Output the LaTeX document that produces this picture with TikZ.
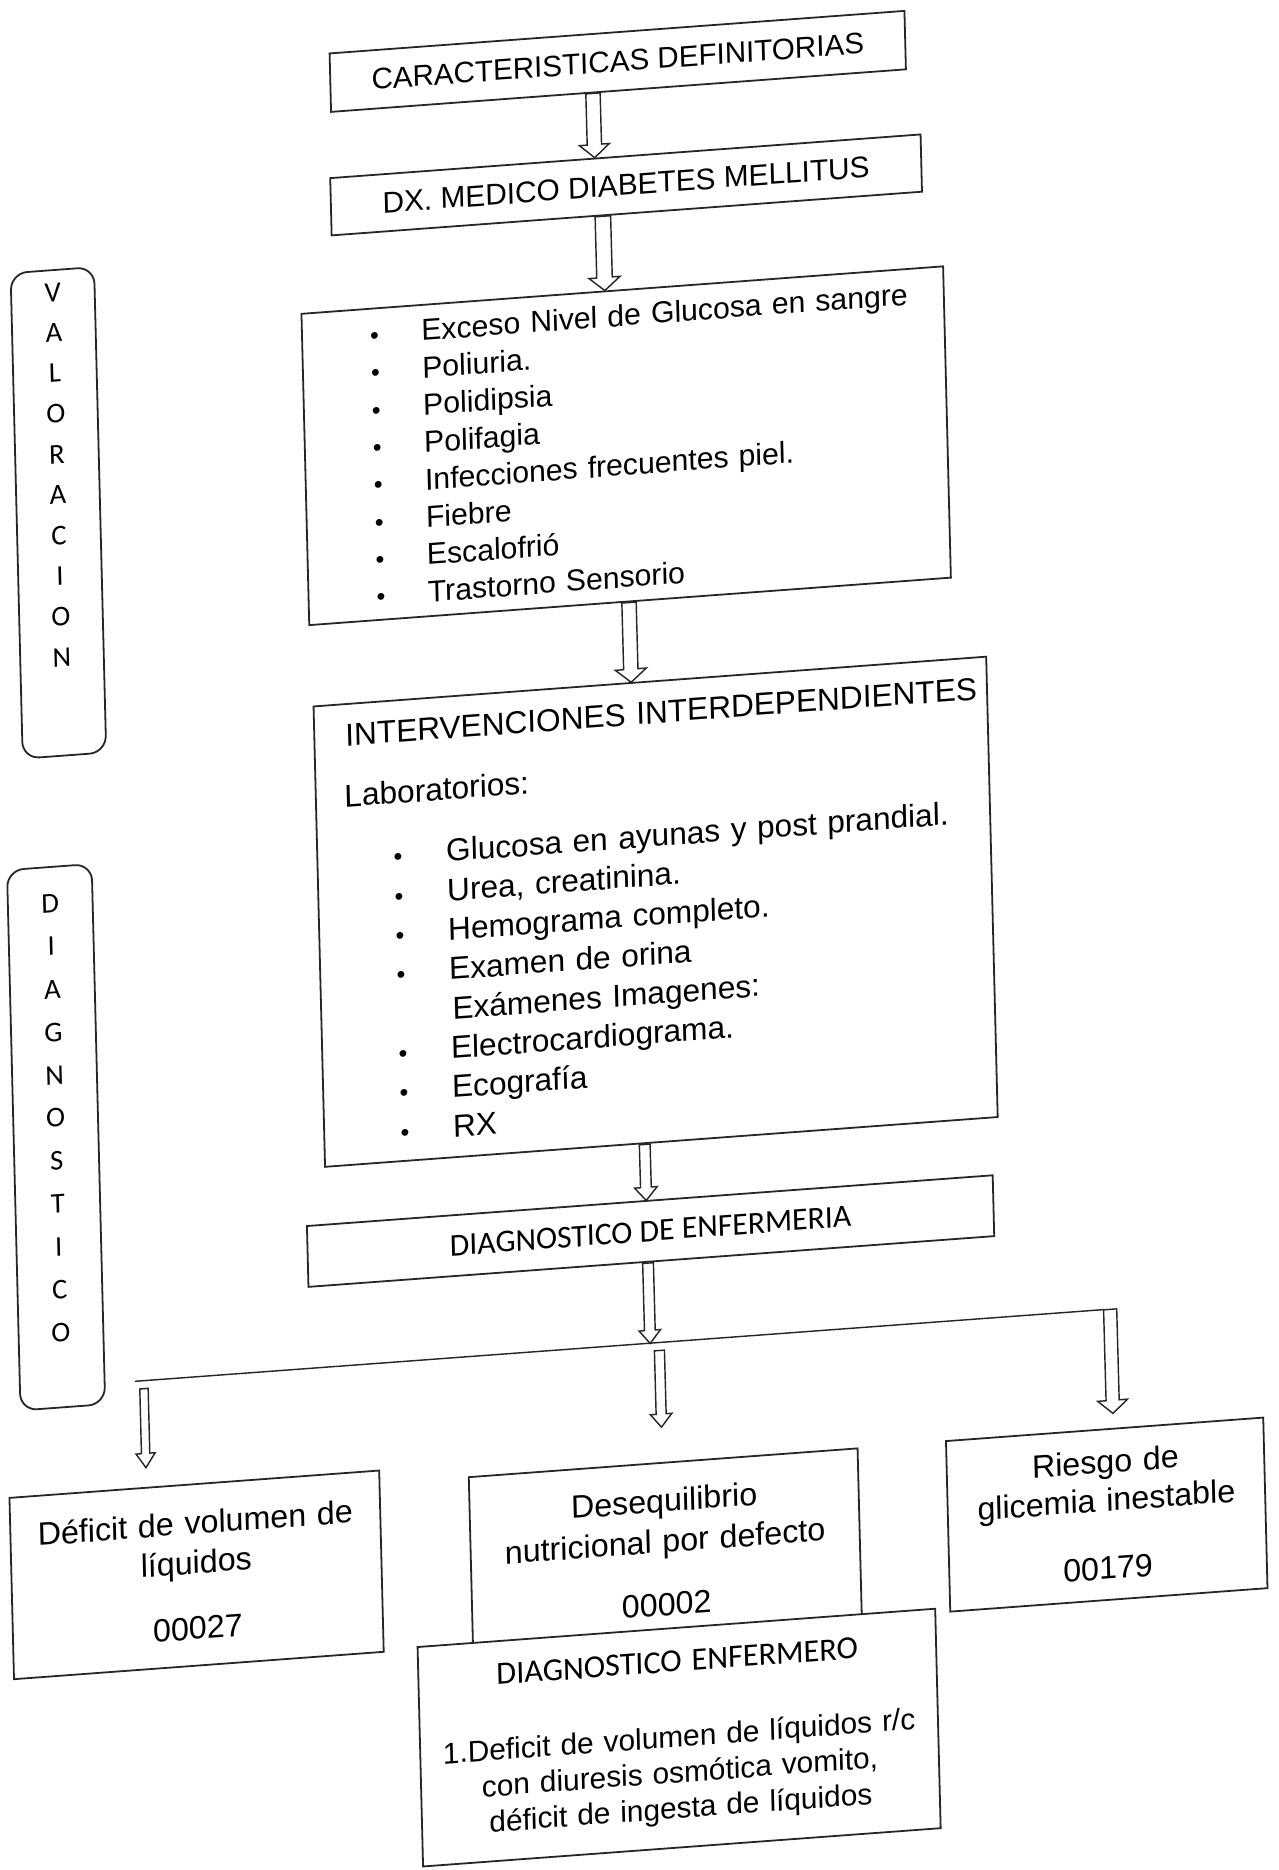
\documentclass[tikz,border=0pt]{standalone}
\usepackage{fontspec}
\setmainfont{Liberation Sans}
\newfontfamily\calib{Carlito}
\usetikzlibrary{calc}
\newcommand\bul{{\fontsize{21}{21}\selectfont\textbullet}}
% block arrow: start, end, shaft half width, head half width, head length
\newcommand\blockarr[5]{\draw[arrline] ($(#1)+(-#3,0)$) -- ($(#2)+(-#3,#5)$) -- ($(#2)+(-#4,#5)$) -- (#2) -- ($(#2)+(#4,#5)$) -- ($(#2)+(#3,#5)$) -- ($(#1)+(#3,0)$) -- cycle;}
\begin{document}
\begin{tikzpicture}[x=1pt,y=1pt,
  box/.style={draw=black!85, line width=1.5pt, fill=white, inner sep=0pt, transform shape},
  arrline/.style={draw=black!85, line width=1.2pt, fill=white, line join=miter},
  pill/.style={box, rounded corners=14pt, align=center, font=\calib\fontsize{24}{34}\selectfont},
  dxbox/.style={box, align=center, font=\fontsize{27}{30}\selectfont}
]
\fill[white] (0,0) rectangle (1072,-1568);
\useasboundingbox (0,0) rectangle (1072,-1568);
\begin{scope}[cm={1,0.074,-0.025,1,(-19.6,-39.664)}]
% side labels
\node[pill, minimum width=70pt, minimum height=407pt, text depth=64pt] (val) at (58.7,-394.7) {V\\A\\L\\O\\R\\A\\C\\I\\O\\N};
\node[pill, minimum width=71pt, minimum height=453pt, text depth=32pt, font=\calib\fontsize{24}{36}\selectfont] (dia) at (43.7,-917.1) {D\\I\\A\\G\\N\\O\\S\\T\\I\\C\\O};
% main column
\node[box, minimum width=482pt, minimum height=49pt, font=\fontsize{24.8}{30}\selectfont] (car) at (536.3,-51.5) {CARACTERISTICAS DEFINITORIAS};
\node[box, minimum width=495pt, minimum height=48pt, font=\fontsize{25}{30}\selectfont] (dx) at (540.7,-155.4) {DX. MEDICO DIABETES MELLITUS};
\node[box, minimum width=538pt, minimum height=261pt, text width=538pt, align=left, font=\fontsize{25.3}{31.3}\selectfont] (exc) at (535.3,-373.7) {%
\hspace*{57pt}\makebox[43pt][l]{\bul}Exceso Nivel de Glucosa en sangre\\
\hspace*{57pt}\makebox[43pt][l]{\bul}Poliuria.\\
\hspace*{57pt}\makebox[43pt][l]{\bul}Polidipsia\\
\hspace*{57pt}\makebox[43pt][l]{\bul}Polifagia\\
\hspace*{57pt}\makebox[43pt][l]{\bul}Infecciones frecuentes piel.\\
\hspace*{57pt}\makebox[43pt][l]{\bul}Fiebre\\
\hspace*{57pt}\makebox[43pt][l]{\bul}Escalofrió\\
\hspace*{57pt}\makebox[43pt][l]{\bul}Trastorno Sensorio};
\node[box, minimum width=564pt, minimum height=386pt, text width=564pt, align=left, font=\fontsize{26.5}{33}\selectfont] (int) at (550.2,-765.55) {%
\hspace*{26pt}INTERVENCIONES INTERDEPENDIENTES\\[18pt]
\hspace*{24pt}Laboratorios:\\[19pt]
\hspace*{64pt}\makebox[44pt][l]{\bul}Glucosa en ayunas y post prandial.\\
\hspace*{64pt}\makebox[44pt][l]{\bul}Urea, creatinina.\\
\hspace*{64pt}\makebox[44pt][l]{\bul}Hemograma completo.\\
\hspace*{64pt}\makebox[44pt][l]{\bul}Examen de orina\\
\hspace*{110pt}Exámenes Imagenes:\\
\hspace*{64pt}\makebox[44pt][l]{\bul}Electrocardiograma.\\
\hspace*{64pt}\makebox[44pt][l]{\bul}Ecografía\\
\hspace*{64pt}\makebox[44pt][l]{\bul}RX};
\node[box, minimum width=575pt, minimum height=51pt, font=\calib\fontsize{26.6}{30}\selectfont] (dde) at (539.3,-1032.5) {DIAGNOSTICO DE ENFERMERIA};
% diagnoses
\node[dxbox, minimum width=310pt, minimum height=152pt, text width=310pt] (def) at (152.15,-1292.1) {Déficit de volumen de\\[3pt]líquidos\\[25pt]00027};
\node[dxbox, minimum width=326pt, minimum height=150pt, text width=326pt] (des) at (545.0,-1302.2) {Desequilibrio\\[4pt]nutricional por defecto\\[23pt]00002};
\node[dxbox, minimum width=266pt, minimum height=143pt, text width=266pt] (rie) at (915.15,-1298.05) {Riesgo de\\[2pt]glicemia inestable\\[27pt]00179};
\node[box, minimum width=434pt, minimum height=184pt, text width=434pt, align=center, font=\fontsize{25}{30}\selectfont] (den) at (552.6,-1458.2) {{\calib\fontsize{27}{30}\selectfont DIAGNOSTICO ENFERMERO}\\[33pt]1.Deficit de volumen de líquidos r/c\\con diuresis osmótica vomito,\\déficit de ingesta de líquidos};
% connectors
\coordinate (a1s) at ($(car.south)+(-21.6,0)$);
\coordinate (a1e) at (a1s |- dx.north);
\blockarr{a1s}{a1e}{6}{12.5}{11}
\coordinate (a2s) at ($(dx.south)+(-20.3,0)$);
\coordinate (a2e) at (a2s |- exc.north);
\blockarr{a2s}{a2e}{6.5}{13}{11}
\coordinate (a3s) at ($(exc.south)+(-1.1,0)$);
\coordinate (a3e) at (a3s |- int.north);
\blockarr{a3s}{a3e}{6}{13}{11}
\coordinate (a4s) at ($(int.south)+(-14.2,0)$);
\coordinate (a4e) at (a4s |- dde.north);
\blockarr{a4s}{a4e}{4.5}{9.5}{11}
\coordinate (bl) at (104.45,-1126.1);
\coordinate (br) at (916.45,-1126.1);
\draw[draw=black!85, line width=1.2pt] (bl) -- (br);
\coordinate (a5s) at ($(dde.south)+(-3,0)$);
\coordinate (a5e) at (a5s |- bl);
\blockarr{a5s}{a5e}{4.5}{9}{11}
\coordinate (a6s) at ($(bl)+(7.5,-6.5)$);
\coordinate (a6e) at ($(a6s |- def.north)+(0,16.5)$);
\blockarr{a6s}{a6e}{3.5}{8}{12}
\coordinate (a7s) at ($(bl -| des.north)+(-1,-6.5)$);
\coordinate (a7e) at ($(a7s |- des.north)+(0,29.6)$);
\blockarr{a7s}{a7e}{4.2}{9}{11}
\coordinate (a8s) at ($(br)+(5.5,0)$);
\coordinate (a8e) at ($(a8s |- rie.north)+(0,12.5)$);
\blockarr{a8s}{a8e}{5.5}{12.5}{11}
\end{scope}
\end{tikzpicture}
\end{document}
